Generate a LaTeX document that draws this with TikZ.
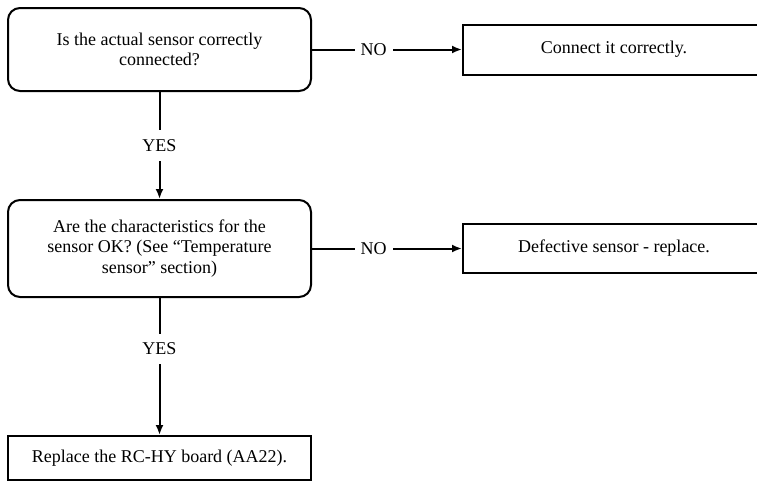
\documentclass[tikz,border=0pt]{standalone}
\usepackage{fontspec}
\setmainfont{Liberation Serif}
\usetikzlibrary{arrows.meta,positioning}

\begin{document}
\begin{tikzpicture}[x=1pt, y=-1pt, node distance=107pt and 150pt,
    txt/.style={font=\fontsize{18}{20.5}\selectfont},
    question/.style={txt, draw, line width=2pt, rounded corners=12pt,
      minimum width=303pt, align=center},
    action/.style={txt, draw, line width=2pt, minimum width=302pt, align=center},
    answer/.style={txt, fill=white, inner xsep=6pt, inner ysep=9pt},
    flow/.style={line width=2pt, -{Latex[length=10pt,width=8pt]}}]
  \useasboundingbox (0,0) rectangle (757,483);

  % questions
  \node (q1) [question, minimum height=83pt] at (159.5,49.5)
    {Is the actual sensor correctly\\connected?};
  \node (q2) [question, minimum height=97pt, below=of q1]
    {Are the characteristics for the\\sensor OK? (See “Temperature\\sensor” section)};

  % actions
  \node (fix1) [action, minimum height=50pt, right=of q1] {Connect it correctly.};
  \node (fix2) [action, minimum height=49pt, right=of q2] {Defective sensor - replace.};
  \node (board) [action, minimum width=303pt, minimum height=44pt, below=137pt of q2]
    {Replace the RC-HY board (AA22).};

  % answers
  \draw[flow] (q1) -- node[answer, pos=0.41] {NO} (fix1);
  \draw[flow] (q2) -- node[answer, pos=0.41] {NO} (fix2);
  \draw[flow] (q1) -- node[answer] {YES} (q2);
  \draw[flow] (q2) -- node[answer, pos=0.37] {YES} (board);
\end{tikzpicture}
\end{document}
